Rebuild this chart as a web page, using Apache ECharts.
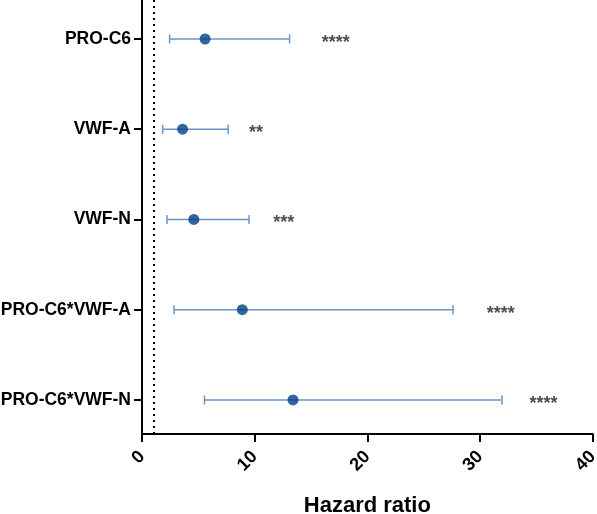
<!DOCTYPE html>
<html><head><meta charset="utf-8">
<script src="https://cdn.jsdelivr.net/npm/echarts@6/dist/echarts.min.js"></script>
<style>html,body{margin:0;padding:0;background:#fff}#c{width:597px;height:514px}</style>
</head><body><div id="c"></div>
<script>
var categories = ['PRO-C6', 'VWF-A', 'VWF-N', 'PRO-C6*VWF-A', 'PRO-C6*VWF-N'];
var hazardRatio = [5.6, 3.6, 4.6, 8.9, 13.4];
var lowerCI = [2.45, 1.83, 2.22, 2.84, 5.55];
var upperCI = [13.1, 7.65, 9.5, 27.6, 31.95];
var significance = ['****', '**', '***', '****', '****'];
var significanceX = [15.96, 9.5, 11.65, 30.6, 34.4];
var xTicks = [0, 10, 20, 30, 40];
var referenceLine = 1;

var rows = categories.map(function (c, i) { return i + 1; });
var font = 'Liberation Sans, Arial, sans-serif';
var whiskerColor = '#6b95c6';
var dotColor = '#003f87';

var chart = echarts.init(document.getElementById('c'));
chart.setOption({
  animation: false,
  grid: { left: 142, right: 4.3, top: 0, bottom: 80, outerBoundsMode: 'none', containLabel: false },
  xAxis: {
    type: 'value', min: xTicks[0], max: xTicks[xTicks.length - 1], interval: 10,
    name: 'Hazard ratio', nameLocation: 'middle', nameGap: 61,
    nameTextStyle: { fontFamily: font, fontWeight: 'bold', fontSize: 22, color: '#000' },
    axisLine: { show: true, onZero: false, lineStyle: { color: '#000', width: 2 } },
    axisTick: { show: true, length: 8, lineStyle: { color: '#000', width: 2 } },
    axisLabel: { rotate: 45, fontFamily: font, fontWeight: 'bold', fontSize: 18, color: '#000', margin: 20 },
    splitLine: { show: false }
  },
  yAxis: {
    type: 'value', inverse: true, min: 0.568, max: 5.377,
    axisLine: { show: true, onZero: false, lineStyle: { color: '#000', width: 2 } },
    axisTick: { show: true, length: 8, customValues: rows, lineStyle: { color: '#000', width: 2 } },
    axisLabel: {
      customValues: rows, margin: 11, fontFamily: font, fontWeight: 'bold', fontSize: 17.5, color: '#000',
      formatter: function (v) { return categories[Math.round(v) - 1] || ''; }
    },
    splitLine: { show: false }
  },
  series: [
    {
      type: 'line', data: [], silent: true,
      markLine: {
        silent: true, symbol: 'none', label: { show: false },
        lineStyle: { color: '#000', type: [2, 4], width: 2 },
        data: [{ xAxis: referenceLine }]
      }
    },
    {
      type: 'custom', silent: true,
      data: rows.map(function (r, i) { return [lowerCI[i], upperCI[i], r]; }),
      renderItem: function (params, api) {
        var lo = api.coord([api.value(0), api.value(2)]);
        var hi = api.coord([api.value(1), api.value(2)]);
        var h = 4.5;
        var st = { stroke: whiskerColor, lineWidth: 1.5 };
        return { type: 'group', children: [
          { type: 'line', shape: { x1: lo[0], y1: lo[1], x2: hi[0], y2: hi[1] }, style: st },
          { type: 'line', shape: { x1: lo[0], y1: lo[1] - h, x2: lo[0], y2: lo[1] + h }, style: st },
          { type: 'line', shape: { x1: hi[0], y1: hi[1] - h, x2: hi[0], y2: hi[1] + h }, style: st }
        ] };
      }
    },
    {
      type: 'scatter', silent: true, symbol: 'circle', symbolSize: 11,
      itemStyle: { color: dotColor },
      data: rows.map(function (r, i) { return [hazardRatio[i], r]; })
    },
    {
      type: 'scatter', silent: true, symbolSize: 0,
      data: rows.map(function (r, i) { return { value: [significanceX[i], r], name: significance[i] }; }),
      label: {
        show: true, position: 'right', distance: 0, offset: [0, 4],
        formatter: function (p) { return p.name; },
        fontFamily: font, fontWeight: 'bold', fontSize: 18, color: '#222'
      }
    }
  ]
});
</script></body></html>
